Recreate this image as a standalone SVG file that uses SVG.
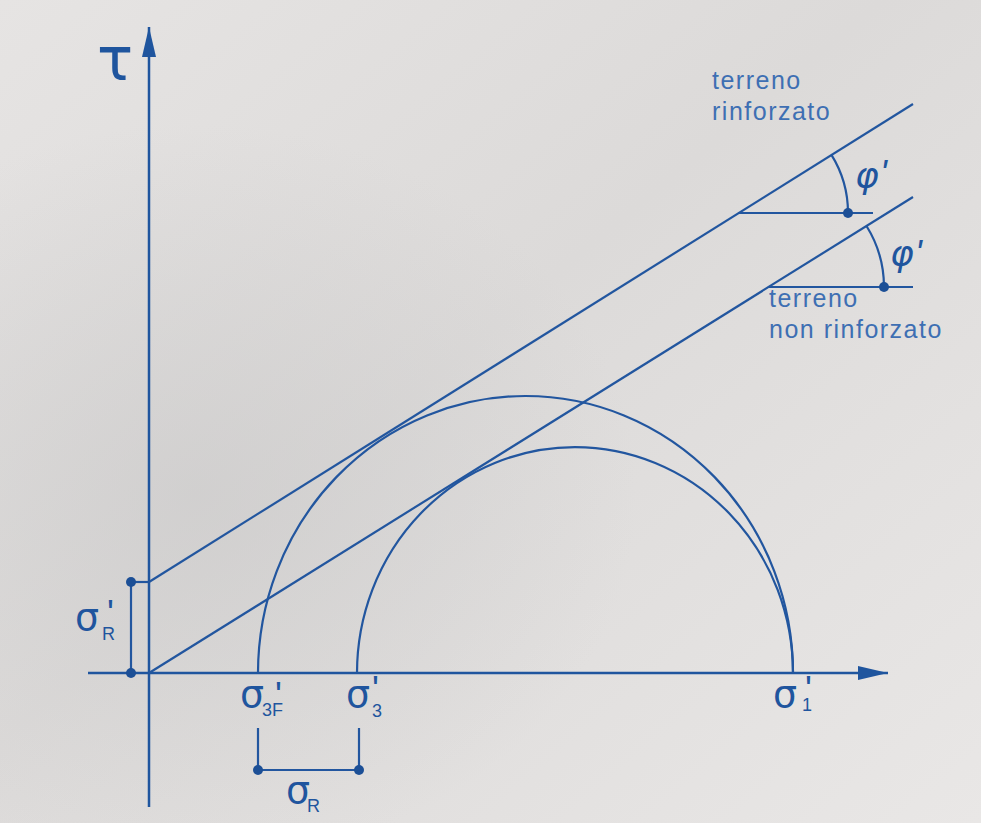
<svg xmlns="http://www.w3.org/2000/svg" width="981" height="823" viewBox="0 0 981 823">
<defs>
<linearGradient id="bg" x1="0" y1="0" x2="1" y2="1">
<stop offset="0" stop-color="#e6e4e3"/>
<stop offset="0.45" stop-color="#dcdad9"/>
<stop offset="1" stop-color="#e9e7e6"/>
</linearGradient>
<radialGradient id="shade" cx="0.2" cy="0.6" r="0.45">
<stop offset="0" stop-color="#c9c8c8" stop-opacity="0.6"/>
<stop offset="1" stop-color="#c9c8c8" stop-opacity="0"/>
</radialGradient>
<marker id="arr" markerUnits="userSpaceOnUse" markerWidth="30" markerHeight="14" refX="30" refY="7" orient="auto">
<path d="M0,0 L30,7 L0,14 z" fill="#1f559e"/>
</marker>
<style>
.ln{stroke:#22569f;stroke-width:2.2;fill:none}
.ax{stroke:#1f559e;stroke-width:2.5;fill:none}
.dot{fill:#1c4f96}
.sig{font-family:"DejaVu Sans",sans-serif;font-size:38px;fill:#1f559e}
.sub{font-family:"Liberation Sans",sans-serif;font-size:18px;fill:#1f559e}
.pr{font-family:"Liberation Sans",sans-serif;font-size:36px;fill:#1f559e}
.phi{font-family:"DejaVu Sans",sans-serif;font-style:italic;font-size:36px;fill:#1f559e}
.lab{font-family:"Liberation Sans",sans-serif;font-size:25px;letter-spacing:1.5px;fill:#3e6fb3}
</style>
</defs>
<rect width="981" height="823" fill="url(#bg)"/>
<rect width="981" height="823" fill="url(#shade)"/>

<g id="connectors">
<line id="tau-axis" class="ax" x1="149" y1="807" x2="149" y2="27" marker-end="url(#arr)"/>
<line id="sigma-axis" class="ax" x1="88" y1="673" x2="888" y2="673" marker-end="url(#arr)"/>
<line id="env-rinforzato" class="ln" x1="149" y1="582" x2="913" y2="104"/>
<line id="env-non-rinforzato" class="ln" x1="149" y1="673" x2="913" y2="197"/>
</g>

<g id="circle-outer"><path class="ln" d="M258,673 A267.5,277 0 0 1 793,673"/></g>
<g id="circle-inner"><path class="ln" d="M357,673 A218,226 0 0 1 793,673"/></g>

<g id="sigmaR-prime-bracket">
<line class="ln" x1="131" y1="582" x2="149" y2="582"/>
<line class="ln" x1="131" y1="582" x2="131" y2="673"/>
<circle class="dot" cx="131" cy="582" r="5"/>
<circle class="dot" cx="131" cy="673" r="5"/>
<text><tspan class="sig" x="75" y="630">σ</tspan><tspan class="pr" x="107" y="626">'</tspan><tspan class="sub" x="102" y="640">R</tspan></text>
</g>

<g id="sigmaR-bracket">
<line class="ln" x1="258" y1="728" x2="258" y2="770"/>
<line class="ln" x1="359" y1="728" x2="359" y2="770"/>
<line class="ln" x1="258" y1="770" x2="359" y2="770"/>
<circle class="dot" cx="258" cy="770" r="5"/>
<circle class="dot" cx="359" cy="770" r="5"/>
<text><tspan class="sig" x="286" y="803">σ</tspan><tspan class="sub" x="307" y="812">R</tspan></text>
</g>

<g id="phi-upper">
<line class="ln" x1="738" y1="213" x2="873" y2="213"/>
<path class="ln" d="M848,213 A110,110 0 0 0 831.3,154.7"/>
<circle class="dot" cx="848" cy="213" r="5"/>
<text><tspan class="phi" x="855" y="188">φ</tspan><tspan class="pr" x="880" y="186" font-style="italic">'</tspan></text>
</g>

<g id="phi-lower">
<line class="ln" x1="769" y1="287" x2="913" y2="287"/>
<path class="ln" d="M884,287 A115.4,115.4 0 0 0 866.5,226"/>
<circle class="dot" cx="884" cy="287" r="5"/>
<text><tspan class="phi" x="890" y="266">φ</tspan><tspan class="pr" x="915" y="266" font-style="italic">'</tspan></text>
</g>

<g id="label-tau"><text x="115" y="80" text-anchor="middle" font-family="DejaVu Sans, sans-serif" font-size="60" fill="#1f559e">τ</text></g>

<g id="label-sigma3F"><text><tspan class="sig" x="240" y="707">σ</tspan><tspan class="pr" x="275" y="708">'</tspan><tspan class="sub" x="262" y="716">3F</tspan></text></g>
<g id="label-sigma3"><text><tspan class="sig" x="346" y="707">σ</tspan><tspan class="pr" x="372" y="702">'</tspan><tspan class="sub" x="372" y="717">3</tspan></text></g>
<g id="label-sigma1"><text><tspan class="sig" x="773" y="707">σ</tspan><tspan class="pr" x="805" y="702">'</tspan><tspan class="sub" x="802" y="711">1</tspan></text></g>

<g id="label-rinforzato"><text class="lab"><tspan x="712" y="89">terreno</tspan><tspan x="712" y="120">rinforzato</tspan></text></g>
<g id="label-non-rinforzato"><text class="lab"><tspan x="769" y="307">terreno</tspan><tspan x="769" y="338">non rinforzato</tspan></text></g>
</svg>
